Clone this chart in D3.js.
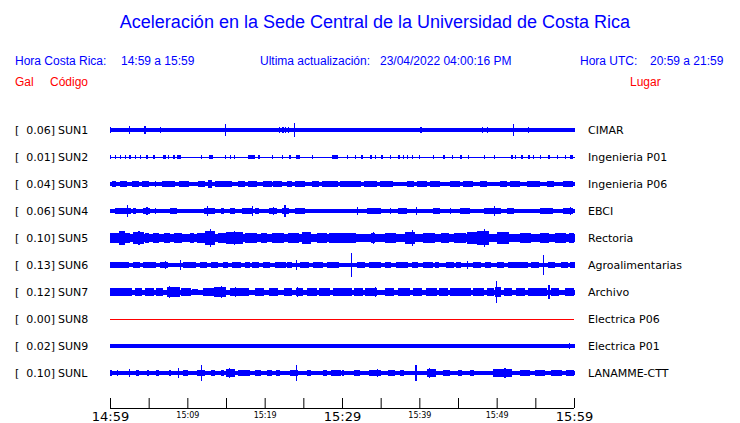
<!DOCTYPE html>
<html>
<head>
<meta charset="utf-8">
<script src="https://cdn.jsdelivr.net/npm/d3@7"></script>
<style>
  body { margin: 0; background: #fff; }
  svg { display: block; }
</style>
</head>
<body>
<div id="chart"></div>
<script>
// station table
var codes = ["SUN1","SUN2","SUN3","SUN4","SUN5","SUN6","SUN7","SUN8","SUN9","SUNL"];
var peakGal = ["0.06","0.01","0.04","0.06","0.10","0.13","0.12","0.00","0.02","0.10"];
var places = ["CIMAR","Ingenieria P01","Ingenieria P06","EBCI","Rectoria","Agroalimentarias","Archivo","Electrica P06","Electrica P01","LANAMME-CTT"];

// background level of each trace (mGal, half amplitude)
var baseMgal = [19, 5, 21, 19, 42, 21, 25, 0, 19, 21];

// bursts: [minute after 14:59, duration in minutes, half amplitude mGal]
var sun1 = [[0,0.1,30],[2.46,0,42],[4.44,0,45],[6.47,0,28],[14.9,0,60],[21.8,0,28],[22.2,0.3,30],[22.6,0,32],[23.0,0,28],
  [23.83,0,70],[34.3,0,24],[40.1,0.2,30],[46.3,0,25],[47.0,0,26],[48.1,0,30],[48.7,0,28],[52.15,0,60],[54.09,0,36],[56.9,0,26]];
var sun2 = [[0,0.15,17],[0.65,0.15,17],[1.3,0.15,17],[1.94,0.15,17],[2.5,0.15,17],[3.2,0.15,17],[3.9,0.15,17],[4.7,0.15,17],
  [5.6,0.15,17],[6.9,0.3,17],[7.5,0.15,17],[8.2,0.15,17],[8.6,0.6,17],[11.8,0.15,17],[12.8,0.5,17],[14.9,0.15,17],[15.5,0.15,17],
  [16.0,0.15,17],[17.9,0.85,19],[19.2,0.15,17],[20.9,0.15,17],[22.2,0.15,17],[23.2,0.15,17],[24.1,0.5,17],[26.1,0.15,17],
  [28.7,0.8,19],[30.6,0.15,17],[31.7,0.15,17],[32.5,0.15,17],[33.6,0.3,17],[34.3,0.15,17],[35.1,0.15,17],[36.2,0.15,17],
  [37.3,0.15,17],[37.9,0.15,17],[38.4,0.15,17],[39.0,0.15,17],[39.9,0.15,17],[41.8,0.15,17],[43.1,0.15,17],[44.2,0.15,17],
  [45.3,0.15,17],[46.3,0.15,17],[48.3,0.15,17],[49.6,0.15,17],[51.9,0.15,17],[52.4,0.15,17],[53.2,0.15,17],[54.1,0.15,17],
  [54.7,0.15,17],[55.6,0.15,17],[56.7,0.15,17],[57.8,0.15,17],[58.8,0.15,17],[59.5,0.4,17]];
var sun3 = [[0.2,0.6,30],[1.3,0.9,32],[2.8,0.9,30],[4.1,0.9,30],[5.8,0.2,28],[6.7,1.7,33],[8.9,1.3,30],[11.4,0.9,30],[12.7,0.5,38],
  [13.6,2.2,32],[16.6,0.9,30],[17.9,1.1,36],[19.8,1.1,30],[21.1,1.1,30],[22.9,0.6,28],[23.9,1.3,30],[26.1,0.9,28],[27.4,2.1,33],
  [29.8,2.6,30],[32.8,1.7,30],[34.9,1.7,32],[38.4,0.9,30],[39.7,1.3,30],[41.4,1.3,30],[44.0,1.3,30],[45.7,1.3,32],[47.8,0.9,30],
  [50.4,0.9,30],[51.7,1.3,35],[53.9,1.7,30],[56.5,0.9,30],[58.6,1.3,32]];
var sun4 = [[0.6,0.9,28],[1.5,1.2,35],[2.2,0,60],[3.0,0.4,28],[4.3,0.9,32],[4.7,0,42],[5.8,0,28],[7.8,0.9,28],[10.3,0.4,26],
  [12.1,1.5,32],[12.5,0,56],[14.4,0.4,30],[15.5,0.6,34],[17.1,1.3,30],[18.4,0,50],[18.7,0.6,28],[20.5,1.1,30],[21.1,0,45],
  [22.2,0.9,35],[22.55,0,60],[23.9,1.3,30],[26.9,0.9,26],[29.7,0.9,26],[31.9,0,40],[33.2,1.9,32],[36.2,0.2,28],[37.3,1.1,30],
  [39.6,0,38],[41.8,0.9,30],[44.0,0,34],[45.3,1.3,32],[48.3,2.2,32],[49.6,0,50],[51.3,0.9,28],[55.6,1.7,30],[58.6,1.3,33],[59.5,0,42]];
var sun5 = [[0,1.5,55],[1.2,0.8,70],[2.0,0.6,50],[3.0,1.4,60],[3.66,0,70],[4.5,0.5,48],[5.5,0.8,48],[7.0,0.8,50],[8.3,1.0,52],
  [10.3,0.6,50],[11.2,1.2,55],[12.3,1.3,70],[12.93,0,98],[14.0,1.0,50],[15.0,2.2,60],[16.0,0,75],[17.5,1.5,55],[19.5,0.8,50],
  [21.0,1.5,55],[23.0,1.5,50],[24.8,1.2,62],[25.3,0,65],[26.8,1.2,52],[28.3,1.8,55],[29.8,2.0,55],[33.8,0.5,50],[34.0,0,66],
  [35.5,1.5,52],[38.2,1.2,60],[39.0,0,80],[40.5,1.5,52],[42.8,1.0,50],[44.5,1.5,55],[46.2,2.5,65],[47.5,1.5,70],[48.3,0,91],
  [50.0,1.6,60],[50.9,0,65],[53.0,1.5,55],[55.6,1.2,55],[56.0,0,56],[57.5,1.5,52],[59.4,0.6,55],[59.7,0,52]];
var sun6 = [[0,2.3,30],[1.9,0.6,30],[3.0,0.9,33],[4.3,1.3,32],[5.6,0.4,30],[6.5,1.0,34],[7.1,0,42],[9.0,0,48],[9.4,1.7,32],
  [11.6,0.9,30],[13.1,0.9,30],[14.6,0.6,30],[15.8,1.1,32],[17.5,0.6,30],[18.4,0.9,30],[19.8,0.9,30],[21.4,1.3,32],[22.9,0.6,30],
  [24.05,0,48],[24.6,1.1,30],[26.3,1.3,32],[28.1,1.5,30],[31.16,0,130],[32.0,1.0,30],[33.5,1.5,30],[35.5,0.8,32],[37.0,1.5,30],
  [39.0,0.8,30],[40.5,1.3,32],[42.0,0.5,34],[43.5,1.0,30],[44.8,0.6,36],[46.1,0,40],[47.0,1.0,30],[48.5,0.8,30],[50.0,1.0,30],
  [51.5,1.5,33],[53.0,1.0,30],[54.5,1.0,30],[56.03,0,105],[56.6,1.0,32],[58.3,0.9,30],[59.5,0.6,30]];
var sun7 = [[0,1.5,42],[1.5,1.4,40],[3.2,1.0,38],[4.5,1.2,40],[6.0,0.8,38],[7.4,1.6,50],[7.6,0,60],[9.2,1.3,40],[10.6,0.8,35],
  [12.0,1.5,45],[13.5,1.5,48],[14.35,0,60],[15.5,1.5,45],[16.1,0,50],[17.0,1.0,40],[18.7,1.2,38],[20.5,1.2,45],[21.3,0,42],
  [22.5,1.0,40],[24.0,1.0,45],[24.2,0,50],[25.5,1.3,40],[27.0,1.5,40],[28.8,1.2,45],[29.8,1.5,45],[31.5,1.2,40],[33.0,1.5,42],
  [34.3,0,48],[35.5,1.2,40],[37.3,1.5,45],[39.2,1.2,40],[40.8,1.5,42],[42.5,1.2,40],[44.0,1.5,42],[45.5,1.2,40],[47.0,1.3,42],
  [48.8,0.8,38],[49.8,0.8,50],[49.91,0,112],[51.0,1.0,40],[52.5,1.2,40],[54.0,1.5,42],[55.5,1.0,40],[56.7,0,70],[57.0,1.0,38],[58.8,1.2,45]];
var sun8 = [];
var sun9 = [[59.3,0,28]];
var sunl = [[0,0.3,30],[0.9,0,30],[2.4,0,40],[3.4,0.3,32],[4.8,0.3,30],[5.9,0.4,30],[7.6,0.3,35],[8.83,0,55],[9.5,0.6,30],
  [11.3,1.0,35],[11.8,0,85],[13.1,0.5,30],[14.4,0.3,30],[15.0,1.1,42],[15.4,0,52],[16.6,1.5,32],[18.7,0.8,30],[20.3,0.6,30],
  [21.5,0.5,32],[23.3,1.0,32],[24.0,0,80],[25.5,0.5,30],[27.5,0.5,30],[28.6,1.3,32],[30.0,0.3,30],[31.5,0.8,32],[33.5,1.5,35],
  [34.5,0,42],[36.0,0.8,30],[37.5,0.5,30],[39.5,0,84],[41.0,1.2,45],[41.2,0,50],[43.0,1.0,30],[45.0,0.5,30],[46.5,0.6,30],
  [49.5,2.5,40],[50.2,0,45],[51.0,0,56],[53.0,1.3,32],[55.0,1.2,32],[57.0,1.5,33],[59.0,1.0,35]];
var bursts = [sun1, sun2, sun3, sun4, sun5, sun6, sun7, sun8, sun9, sunl];

// time axis
var tickMinutes = d3.range(0, 61, 5);
var tickLabels = ["14:59","","15:09","","15:19","","15:29","","15:39","","15:49","","15:59"];
var bigLabels = ["14:59","15:29","15:59"];

var width = 740, height = 423;
var blue = "#0000ff", red = "#ff0000";

var svg = d3.select("#chart").append("svg")
    .attr("width", width)
    .attr("height", height);

var x = d3.scaleLinear().domain([0, 60]).range([110, 574]);
var row = d3.scalePoint().domain(codes).range([130, 373]);
var amp = d3.scaleLinear().domain([0, 130]).range([0, 12.35]);

// header
svg.append("text")
    .attr("x", 375).attr("y", 28)
    .attr("text-anchor", "middle")
    .style("font-family", "Liberation Sans, Arial, sans-serif")
    .style("font-size", "18px")
    .attr("fill", blue)
    .text("Aceleración en la Sede Central de la Universidad de Costa Rica");

var head = [
    {x: 15, y: 65, t: "Hora Costa Rica:", c: blue},
    {x: 121, y: 65, t: "14:59 a 15:59", c: blue},
    {x: 260, y: 65, t: "Ultima actualización:", c: blue},
    {x: 380, y: 65, t: "23/04/2022 04:00:16 PM", c: blue},
    {x: 580, y: 65, t: "Hora UTC:", c: blue},
    {x: 650, y: 65, t: "20:59 a 21:59", c: blue},
    {x: 15, y: 86, t: "Gal", c: red},
    {x: 50, y: 86, t: "Código", c: red},
    {x: 630, y: 86, t: "Lugar", c: red}
];
svg.selectAll(".head")
    .data(head)
    .enter().append("text")
    .attr("class", "head")
    .attr("x", d => d.x).attr("y", d => d.y)
    .style("font-family", "Liberation Sans, Arial, sans-serif")
    .style("font-size", "12px")
    .attr("fill", d => d.c)
    .text(d => d.t);

// station rows
var rows = svg.selectAll(".row")
    .data(codes)
    .enter().append("g")
    .attr("class", "row")
    .attr("transform", d => `translate(0,${row(d)})`)
    .style("font-family", "DejaVu Sans, sans-serif")
    .style("font-size", "11px");

rows.append("text").attr("x", 15).attr("y", 4).text("[");
rows.append("text").attr("x", 55).attr("y", 4).attr("text-anchor", "end")
    .text((d, i) => peakGal[i] + "]");
rows.append("text").attr("x", 58).attr("y", 4).text(d => d);
rows.append("text").attr("x", 588).attr("y", 4).text((d, i) => places[i]);

// background band + bursts
rows.each(function(d, i) {
    var g = d3.select(this);
    if (baseMgal[i] == 0) {
        g.append("line")
            .attr("x1", x(0)).attr("x2", x(60))
            .attr("y1", 0.5).attr("y2", 0.5)
            .attr("stroke", red).attr("stroke-width", 1);
        return;
    }
    var h = Math.max(1, Math.round(2 * amp(baseMgal[i])));
    g.append("rect")
        .attr("x", x(0)).attr("width", x(60) - x(0) + 1)
        .attr("y", -Math.floor(h / 2)).attr("height", h)
        .attr("fill", blue)
        .attr("shape-rendering", "crispEdges");

    g.selectAll(".burst")
        .data(bursts[i])
        .enter().append("rect")
        .attr("class", "burst")
        .attr("x", b => x(b[0]))
        .attr("width", b => Math.max(1.2, x(b[0] + b[1]) - x(b[0])))
        .attr("y", b => -amp(b[2]))
        .attr("height", b => 2 * amp(b[2]))
        .attr("fill", blue)
        .attr("shape-rendering", "crispEdges");
});

// time axis, ticks pointing up
var axis = svg.append("g")
    .attr("transform", "translate(0,408)")
    .call(d3.axisBottom(x)
        .tickValues(tickMinutes)
        .tickSize(-10)
        .tickPadding(0)
        .tickFormat((d, i) => tickLabels[i]));

function isBig(d) {
    return bigLabels.indexOf(tickLabels[tickMinutes.indexOf(d)]) >= 0;
}
axis.select(".domain").attr("d", `M${x(0)},0.5H${x(60)}`).attr("stroke", "#000");
axis.selectAll(".tick line").attr("stroke", "#000");
axis.selectAll(".tick text")
    .attr("fill", "#000")
    .style("font-family", "DejaVu Sans, sans-serif")
    .attr("dy", null)
    .attr("y", d => isBig(d) ? 13 : 10)
    .style("font-size", d => isBig(d) ? "13px" : "8px");
</script>
</body>
</html>
